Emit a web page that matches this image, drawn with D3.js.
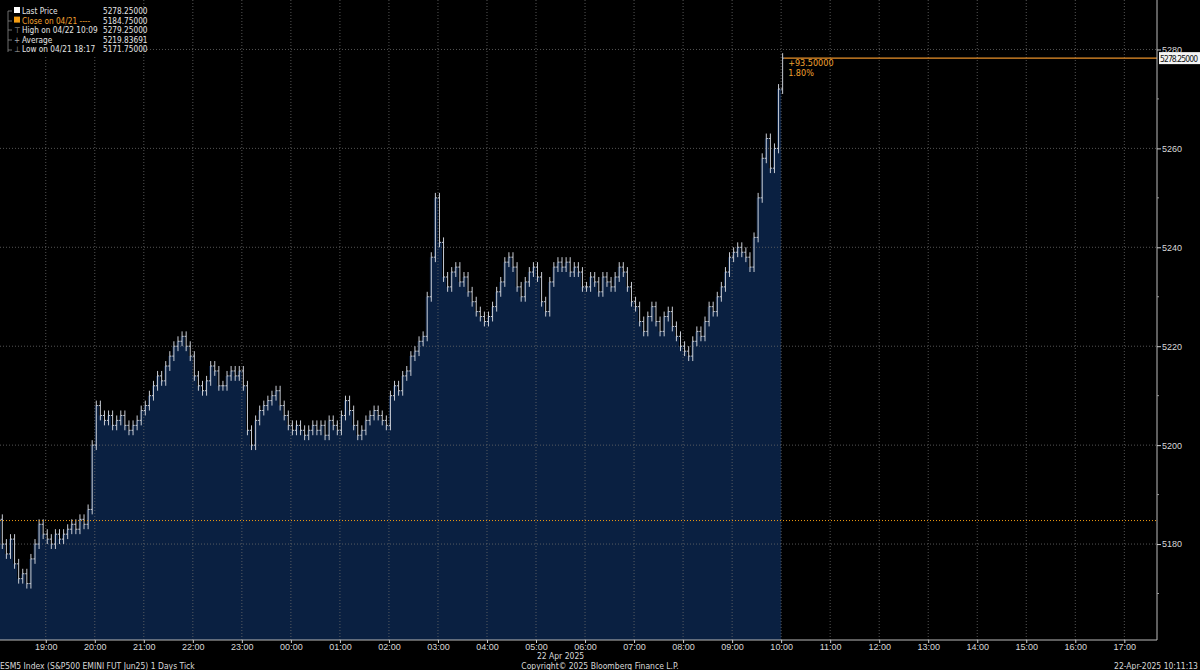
<!DOCTYPE html>
<html>
<head>
<meta charset="utf-8">
<script src="https://cdn.jsdelivr.net/npm/d3@7"></script>
<style>
  html, body { margin: 0; background: #000; }
  svg { display: block; font-family: "Liberation Sans Narrow", "Arial Narrow", "DejaVu Sans Condensed", sans-serif; }
</style>
</head>
<body>
<svg id="chart" width="1200" height="670"></svg>
<script>
'use strict';

// 5-minute closes, 21 Apr 18:00 -> 22 Apr 10:00, one row per hour
const closes = [
  5185, 5180, 5178, 5181, 5176, 5173, 5174, 5172, 5177, 5180, 5184, 5182, // 18:00
  5181, 5180, 5182, 5181, 5182, 5183, 5184, 5183, 5185, 5184, 5187, 5200, // 19:00
  5208, 5206, 5205, 5206, 5204, 5205, 5206, 5204, 5203, 5204, 5205, 5207, // 20:00
  5208, 5210, 5212, 5214, 5213, 5216, 5218, 5220, 5221, 5222, 5220, 5218, // 21:00
  5214, 5212, 5211, 5213, 5216, 5215, 5212, 5212, 5214, 5215, 5214, 5215, // 22:00
  5212, 5203, 5200, 5205, 5207, 5208, 5209, 5210, 5211, 5208, 5206, 5204, // 23:00
  5203, 5204, 5203, 5202, 5203, 5204, 5203, 5204, 5202, 5205, 5204, 5203, // 00:00
  5206, 5209, 5207, 5204, 5202, 5203, 5205, 5206, 5207, 5206, 5205, 5204, // 01:00
  5210, 5212, 5211, 5214, 5215, 5218, 5219, 5221, 5222, 5230, 5238, 5250, // 02:00
  5241, 5234, 5232, 5235, 5236, 5233, 5234, 5231, 5229, 5227, 5226, 5225, // 03:00
  5226, 5228, 5231, 5233, 5237, 5238, 5236, 5232, 5230, 5233, 5235, 5236, // 04:00
  5234, 5229, 5227, 5233, 5236, 5237, 5236, 5237, 5235, 5236, 5235, 5232, // 05:00
  5232, 5234, 5233, 5231, 5234, 5233, 5232, 5234, 5236, 5235, 5232, 5229, // 06:00
  5228, 5225, 5223, 5226, 5228, 5225, 5223, 5226, 5227, 5224, 5222, 5220, // 07:00
  5219, 5218, 5221, 5223, 5222, 5225, 5228, 5227, 5230, 5232, 5235, 5238, // 08:00
  5239, 5240, 5239, 5238, 5236, 5242, 5250, 5258, 5262, 5256, 5260, 5272, // 09:00
  5278.25                                                                  // 10:00
];
const sessionStart = new Date(2025, 3, 21, 18, 0);
const barMinutes = 5;

const hourTicks = ['19:00','20:00','21:00','22:00','23:00','00:00','01:00','02:00','03:00','04:00',
  '05:00','06:00','07:00','08:00','09:00','10:00','11:00','12:00','13:00','14:00','15:00','16:00','17:00'];
const priceTicks = [5180, 5200, 5220, 5240, 5260, 5280];
const minorPriceTicks = [5170, 5190, 5210, 5230, 5250, 5270];

const prevClose = 5184.75;
const lastPrice = 5278.25;
const legendRows = [
  ['Last Price', '5278.25000'],
  ['Close on 04/21 ----', '5184.75000'],
  ['High on 04/22 10:09', '5279.25000'],
  ['Average', '5219.83691'],
  ['Low on 04/21 18:17', '5171.75000']
];

const plotR = 1157, plotB = 640;
const svg = d3.select('#chart');

const x = d3.scaleTime()
  .domain([new Date(2025, 3, 21, 18, 4), new Date(2025, 3, 22, 17, 40)])
  .range([0, plotR]);
const y = d3.scaleLinear().domain([5160.6, 5290]).range([plotB, 0]);

const bars = closes.map((c, i) => ({
  t: new Date(sessionStart.getTime() + i * barMinutes * 60000),
  c, p: i ? closes[i - 1] : c
}));

svg.append('defs').append('clipPath').attr('id', 'plot')
  .append('rect').attr('width', plotR).attr('height', plotB);
const g = svg.append('g').attr('clip-path', 'url(#plot)');

// area under the close
g.append('path').datum(bars)
  .attr('fill', '#0a2041')
  .attr('d', d3.area().curve(d3.curveStepAfter)
    .x(d => x(d.t)).y0(plotB).y1(d => y(d.c)));

// grid
const tickTimes = hourTicks.map((s, i) => new Date(2025, 3, 21, 19 + i, 0));
g.selectAll('.vg').data(tickTimes).join('line')
  .attr('x1', d => x(d)).attr('x2', d => x(d)).attr('y1', 0).attr('y2', plotB)
  .attr('stroke', '#6a6a6a').attr('stroke-width', 0.8).attr('stroke-dasharray', '1,2');
g.selectAll('.hg').data(priceTicks).join('line')
  .attr('x1', 0).attr('x2', plotR).attr('y1', d => y(d)).attr('y2', d => y(d))
  .attr('stroke', '#6a6a6a').attr('stroke-width', 0.8).attr('stroke-dasharray', '1,2');

// bars: open tick, vertical range, close tick
const bw = 1.6;
const bg = g.append('g').attr('stroke', '#c8ccd4').attr('stroke-width', 1);
bars.forEach(d => {
  const xx = x(d.t) + 1.5;
  const lo = Math.min(d.p, d.c) - 1, hi = Math.max(d.p, d.c) + 1;
  bg.append('line').attr('x1', xx).attr('x2', xx).attr('y1', y(lo)).attr('y2', y(hi));
  bg.append('line').attr('x1', xx - bw).attr('x2', xx).attr('y1', y(d.p)).attr('y2', y(d.p));
  bg.append('line').attr('x1', xx).attr('x2', xx + bw).attr('y1', y(d.c)).attr('y2', y(d.c));
});

// previous close (dotted orange)
g.append('line').attr('x1', 0).attr('x2', plotR).attr('y1', y(prevClose)).attr('y2', y(prevClose))
  .attr('stroke', '#f39c12').attr('stroke-width', 1).attr('stroke-dasharray', '1,2');

// last price line
const lastX = x(bars[bars.length - 1].t) + 3;
svg.append('line').attr('x1', lastX).attr('x2', plotR).attr('y1', y(lastPrice)).attr('y2', y(lastPrice))
  .attr('stroke', '#e8912a').attr('stroke-width', 1.2);
svg.append('text').attr('x', lastX + 4).attr('y', y(lastPrice) + 8).attr('fill', '#f0a030')
  .attr('font-size', 9).text('+93.50000');
svg.append('text').attr('x', lastX + 4).attr('y', y(lastPrice) + 18).attr('fill', '#f0a030')
  .attr('font-size', 9).text('1.80%');

// frame
svg.append('line').attr('x1', plotR).attr('x2', plotR).attr('y1', 0).attr('y2', plotB).attr('stroke', '#bbb');
svg.append('line').attr('x1', 0).attr('x2', plotR).attr('y1', plotB).attr('y2', plotB).attr('stroke', '#bbb');

// right axis
const ya = svg.append('g').attr('transform', `translate(${plotR},0)`)
  .call(d3.axisRight(y).tickValues(priceTicks).tickSize(4).tickFormat(d3.format('d')));
ya.select('.domain').remove();
ya.selectAll('line').attr('stroke', '#ccc');
ya.selectAll('text').attr('fill', '#d8d8d8').attr('font-size', 9).attr('x', 5)
  .style('font-family', 'inherit');
svg.append('g').selectAll('line').data(minorPriceTicks).join('line')
  .attr('x1', plotR).attr('x2', plotR + 2).attr('y1', d => y(d)).attr('y2', d => y(d)).attr('stroke', '#999');
svg.append('rect').attr('x', plotR + 2).attr('y', y(lastPrice) - 6).attr('width', 41).attr('height', 12)
  .attr('fill', '#f4f4f4');
svg.append('text').attr('x', plotR + 3).attr('y', y(lastPrice) + 3.5).attr('fill', '#111')
  .attr('font-size', 8.5).attr('textLength', 38).text(lastPrice.toFixed(5));

// bottom axis
const xa = svg.append('g').attr('transform', `translate(0,${plotB})`)
  .call(d3.axisBottom(x).tickValues(tickTimes).tickSize(3).tickFormat(d3.timeFormat('%H:%M')));
xa.select('.domain').remove();
xa.selectAll('line').attr('stroke', '#ccc');
xa.selectAll('text').attr('fill', '#d8d8d8').attr('font-size', 9).attr('y', 4).attr('dy', '0.71em')
  .style('font-family', 'inherit');
svg.append('text').attr('x', x(new Date(2025, 3, 22, 5, 30))).attr('y', 659).attr('text-anchor', 'middle')
  .attr('fill', '#d8d8d8').attr('font-size', 8.5).text('22 Apr 2025');

// footer
const foot = [[0, 'start', 'ESM5 Index (S&P500 EMINI FUT  Jun25) 1 Days  Tick'],
  [600, 'middle', 'Copyright© 2025 Bloomberg Finance L.P.'],
  [1198, 'end', '22-Apr-2025 10:11:13']];
foot.forEach(f => svg.append('text').attr('x', f[0]).attr('y', 668.5).attr('text-anchor', f[1])
  .attr('fill', '#d8d8d8').attr('font-size', 8.5).text(f[2]));

// legend
const lg = svg.append('g');
lg.append('rect').attr('x', 0).attr('y', 0).attr('width', 142).attr('height', 56).attr('fill', '#000');
legendRows.forEach((r, i) => {
  const yy = 14 + i * 9.6;
  if (i === 0) lg.append('rect').attr('x', 14).attr('y', yy - 7).attr('width', 6).attr('height', 6).attr('fill', '#fff');
  else if (i === 1) lg.append('rect').attr('x', 14).attr('y', yy - 7).attr('width', 6).attr('height', 6).attr('fill', '#f39c12');
  else lg.append('text').attr('x', 14).attr('y', yy).attr('fill', '#aaa').attr('font-size', 8)
    .text(i === 2 ? '⊤' : i === 3 ? '+' : '⊥');
  lg.append('text').attr('x', 22).attr('y', yy).attr('fill', i === 1 ? '#f0a030' : '#e4e4e4').attr('font-size', 8.2).text(r[0]);
  lg.append('text').attr('x', 103).attr('y', yy).attr('fill', '#e4e4e4').attr('font-size', 8.2).text(r[1]);
});
lg.append('path').attr('d', 'M8,11 V52 M8,11 H12 M8,21 H12 M8,30 H12 M8,40 H12 M8,50 H12')
  .attr('stroke', '#888').attr('fill', 'none').attr('stroke-width', 0.8);
</script>
</body>
</html>
